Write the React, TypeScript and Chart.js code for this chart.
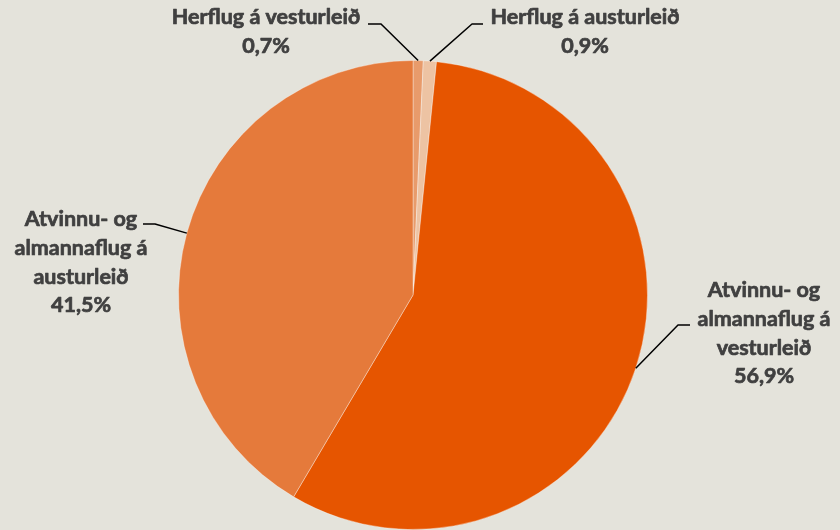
import React, { useEffect, useRef } from "react";
import { Chart, registerables } from "chart.js";

Chart.register(...registerables);

const categories = [
  "Herflug á vesturleið",
  "Herflug á austurleið",
  "Atvinnu- og almannaflug á vesturleið",
  "Atvinnu- og almannaflug á austurleið",
];
const shares = [0.7, 0.9, 56.9, 41.5];
const shareLabels = ["0,7%", "0,9%", "56,9%", "41,5%"];
const labelLines = [
  ["Herflug á vesturleið"],
  ["Herflug á austurleið"],
  ["Atvinnu- og", "almannaflug á", "vesturleið"],
  ["Atvinnu- og", "almannaflug á", "austurleið"],
];
const colors = ["#E89B6B", "#EDC3A3", "#E65500", "#E57A3B"];

// label layout: text centre x, first line y, elbow point, end of leader
const labelLayout = [
  { cx: 266, y0: 17, elbow: [381, 24], end: [368, 24] },
  { cx: 585, y0: 17, elbow: [472, 24], end: [483, 24] },
  { cx: 764, y0: 290, elbow: [678, 325], end: [690, 325] },
  { cx: 81, y0: 219, elbow: [155, 224], end: [143, 224] },
];

const BG = "#E4E3DB";

const labelPlugin = {
  id: "pieLabels",
  afterDraw(chart: any) {
    const ctx = chart.ctx;
    const meta = chart.getDatasetMeta(0);
    ctx.save();
    meta.data.forEach((arc: any, i: number) => {
      const p = arc.getProps(["x", "y", "startAngle", "endAngle", "outerRadius"], true);
      const mid = (p.startAngle + p.endAngle) / 2;
      const ax = p.x + Math.cos(mid) * p.outerRadius;
      const ay = p.y + Math.sin(mid) * p.outerRadius;
      const L = labelLayout[i];
      ctx.strokeStyle = "#000";
      ctx.lineWidth = 1.5;
      ctx.beginPath();
      ctx.moveTo(ax, ay);
      ctx.lineTo(L.elbow[0], L.elbow[1]);
      ctx.lineTo(L.end[0], L.end[1]);
      ctx.stroke();
      ctx.fillStyle = "#404040";
      ctx.strokeStyle = "#404040";
      ctx.lineWidth = 0.7;
      ctx.lineJoin = "round";
      ctx.font = "bold 21.5px Lato";
      ctx.textAlign = "center";
      ctx.textBaseline = "middle";
      const lines = [...labelLines[i], shareLabels[i]];
      lines.forEach((t, k) => {
        const y = L.y0 + k * 28.8;
        ctx.fillText(t, L.cx, y);
        ctx.strokeText(t, L.cx, y);
      });
    });
    ctx.restore();
  },
};

export default function App() {
  const ref = useRef<HTMLCanvasElement>(null);
  useEffect(() => {
    document.body.style.margin = "0";
    const chart = new Chart(ref.current!, {
      type: "pie",
      data: {
        labels: categories,
        datasets: [
          {
            data: shares,
            backgroundColor: colors,
            borderColor: "rgba(255,255,255,0.35)",
            borderWidth: 1,
          },
        ],
      },
      options: {
        animation: false,
        responsive: false,
        layout: { padding: { top: 60, bottom: 0, left: 0, right: 14 } },
        plugins: { legend: { display: false }, tooltip: { enabled: false } },
      },
      plugins: [labelPlugin],
    });
    return () => chart.destroy();
  }, []);
  return (
    <div style={{ position: "absolute", left: 0, top: 0, width: 840, height: 530, background: BG }}>
      <canvas ref={ref} width={840} height={530} />
    </div>
  );
}
